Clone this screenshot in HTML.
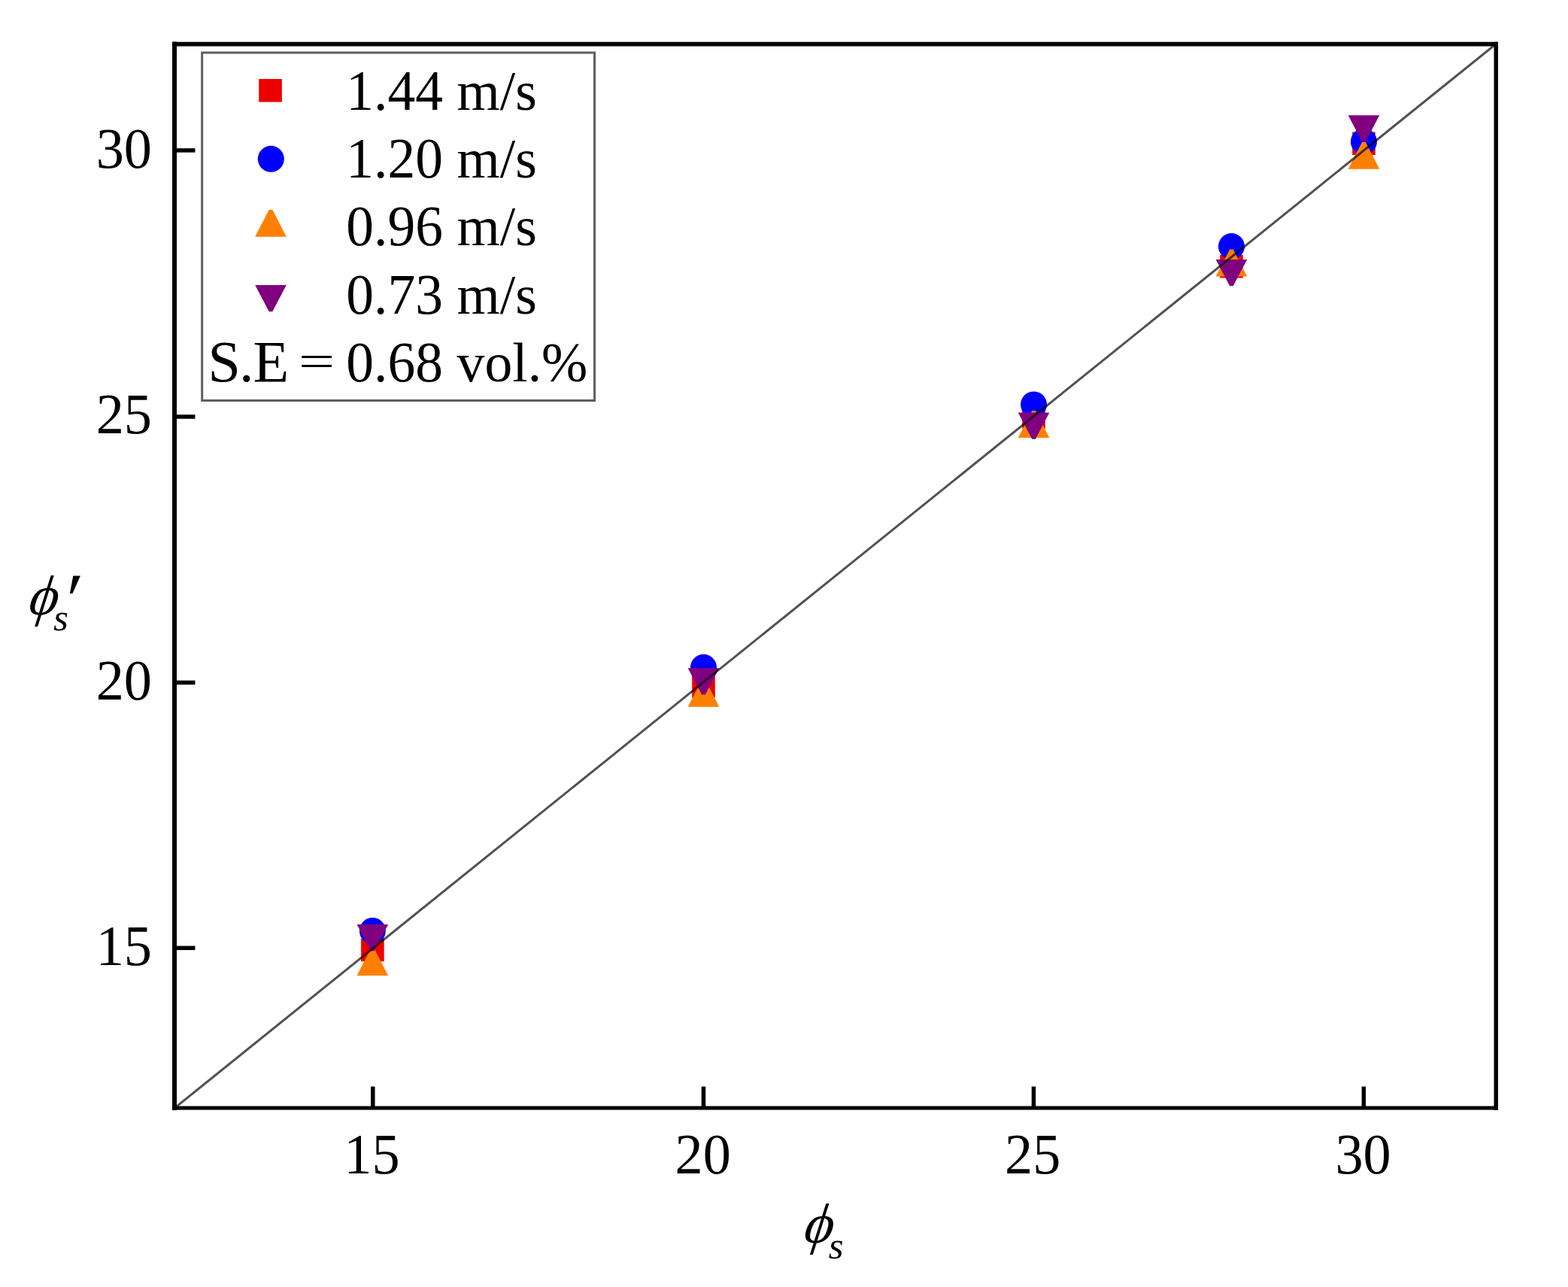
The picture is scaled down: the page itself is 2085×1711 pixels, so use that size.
<!DOCTYPE html>
<html lang="en">
<head>
<meta charset="utf-8">
<style>
html,body{margin:0;padding:0;background:#fff}
svg{display:block}
text{font-family:'Liberation Serif', 'DejaVu Serif', serif;fill:#000}
</style>
</head>
<body>
<svg width="2085" height="1711" viewBox="0 0 2085 1711">
<rect width="2085" height="1711" fill="#fff"/>
<g id="series-1"><rect x="480.10" y="1247.60" width="30.6" height="30.6" fill="#ee0000"/><rect x="920.20" y="896.80" width="30.6" height="30.6" fill="#ee0000"/><rect x="1359.30" y="539.00" width="30.6" height="30.6" fill="#ee0000"/><rect x="1622.20" y="338.90" width="30.6" height="30.6" fill="#ee0000"/><rect x="1798.20" y="175.50" width="30.6" height="30.6" fill="#ee0000"/></g>
<g id="series-2"><circle cx="495.40" cy="1237.50" r="17.5" fill="#0000ff"/><circle cx="935.50" cy="887.30" r="17.5" fill="#0000ff"/><circle cx="1374.60" cy="537.90" r="17.5" fill="#0000ff"/><circle cx="1637.50" cy="327.60" r="17.5" fill="#0000ff"/><circle cx="1813.50" cy="188.20" r="17.5" fill="#0000ff"/></g>
<g id="series-3"><polygon points="474.60,1297.10 516.20,1297.10 497.70,1261.10 493.10,1261.10" fill="#ff8000"/><polygon points="914.70,939.80 956.30,939.80 937.80,903.80 933.20,903.80" fill="#ff8000"/><polygon points="1353.80,581.90 1395.40,581.90 1376.90,545.90 1372.30,545.90" fill="#ff8000"/><polygon points="1616.70,367.50 1658.30,367.50 1639.80,331.50 1635.20,331.50" fill="#ff8000"/><polygon points="1792.70,224.70 1834.30,224.70 1815.80,188.70 1811.20,188.70" fill="#ff8000"/></g>
<g id="series-4"><polygon points="474.60,1229.10 516.20,1229.10 497.70,1264.30 493.10,1264.30" fill="#800080"/><polygon points="914.70,888.20 956.30,888.20 937.80,923.40 933.20,923.40" fill="#800080"/><polygon points="1353.80,548.60 1395.40,548.60 1376.90,583.80 1372.30,583.80" fill="#800080"/><polygon points="1616.70,345.00 1658.30,345.00 1639.80,380.20 1635.20,380.20" fill="#800080"/><polygon points="1792.70,153.30 1834.30,153.30 1815.80,188.50 1811.20,188.50" fill="#800080"/></g>
<line x1="232.3" y1="1473.0" x2="1989.2" y2="58.5" stroke="#000" stroke-opacity="0.68" stroke-width="3"/>
<g id="frame" stroke="#000" stroke-linecap="square"><line x1="232.0" y1="58.5" x2="232.0" y2="1473.0" stroke-width="6"/><line x1="232.3" y1="58.6" x2="1989.2" y2="58.6" stroke-width="5.6"/><line x1="1989.3" y1="58.5" x2="1989.3" y2="1473.0" stroke-width="5.5"/><line x1="232.3" y1="1473.0" x2="1989.2" y2="1473.0" stroke-width="5.2"/></g>
<g stroke="#000" stroke-width="5.5"><line x1="495.8" y1="1473.0" x2="495.8" y2="1444.50"/><line x1="232.3" y1="1260.3" x2="259.45" y2="1260.3"/><line x1="935.5" y1="1473.0" x2="935.5" y2="1444.50"/><line x1="232.3" y1="907.45" x2="259.45" y2="907.45"/><line x1="1374.5" y1="1473.0" x2="1374.5" y2="1444.50"/><line x1="232.3" y1="554.0" x2="259.45" y2="554.0"/><line x1="1813.4" y1="1473.0" x2="1813.4" y2="1444.50"/><line x1="232.3" y1="199.9" x2="259.45" y2="199.9"/></g>
<g id="tick-labels" font-size="75.5">
<text transform="translate(494.5,1560.0) scale(0.985,1)" text-anchor="middle">15</text>
<text transform="translate(934.7,1560.0) scale(0.985,1)" text-anchor="middle">20</text>
<text transform="translate(1373.2,1560.0) scale(0.985,1)" text-anchor="middle">25</text>
<text transform="translate(1812.6,1560.0) scale(0.985,1)" text-anchor="middle">30</text>
<text transform="translate(202.0,1282.7) scale(0.985,1)" text-anchor="end">15</text>
<text transform="translate(202.0,929.6) scale(0.985,1)" text-anchor="end">20</text>
<text transform="translate(202.0,576.4) scale(0.985,1)" text-anchor="end">25</text>
<text transform="translate(202.0,222.6) scale(0.985,1)" text-anchor="end">30</text>
</g>
<g id="x-title"><text transform="translate(1064.15,1652.10) skewX(-17.6)" font-size="75">&#981;</text><text x="1101.80" y="1672.70" font-size="51" font-style="italic">s</text></g>
<g id="y-title"><text transform="translate(33.45,817.30) skewX(-17.6)" font-size="75">&#981;</text><text x="71.10" y="837.90" font-size="51" font-style="italic">s</text><text transform="translate(84.20,831.30) skewX(-5)" font-size="100">&#8242;</text></g>
<rect x="268.7" y="70.0" width="521.9" height="462.5" fill="#fff" stroke="#5e5e5e" stroke-width="3"/>
<rect x="344.25" y="105.00" width="30.6" height="30.6" fill="#ee0000"/><circle cx="360.30" cy="211.30" r="17.5" fill="#0000ff"/><polygon points="339.20,314.80 380.80,314.80 362.30,278.80 357.70,278.80" fill="#ff8000"/><polygon points="339.20,379.00 380.80,379.00 362.30,414.20 357.70,414.20" fill="#800080"/>
<g id="legend-text">
<text transform="translate(460.3,145.70) scale(0.9608,1)" font-size="76.6">1.44</text> <text x="607.6" y="145.70" font-size="73.6">m/s</text>
<text transform="translate(460.3,236.05) scale(0.9608,1)" font-size="76.6">1.20</text> <text x="607.6" y="236.05" font-size="73.6">m/s</text>
<text transform="translate(460.3,326.40) scale(0.9608,1)" font-size="76.6">0.96</text> <text x="607.6" y="326.40" font-size="73.6">m/s</text>
<text transform="translate(460.3,416.75) scale(0.9608,1)" font-size="76.6">0.73</text> <text x="607.6" y="416.75" font-size="73.6">m/s</text>
<text x="276.6 317.9 336.5" y="507.10" font-size="78">S.E</text> <text transform="translate(397.1,501.00) scale(1.16,0.83)" font-size="73.6">=</text> <text transform="translate(460.3,507.10) scale(0.9608,1)" font-size="76.6">0.68</text> <text x="607.6" y="507.10" font-size="73.6">vol.%</text>
</g>
</svg>
</body>
</html>
